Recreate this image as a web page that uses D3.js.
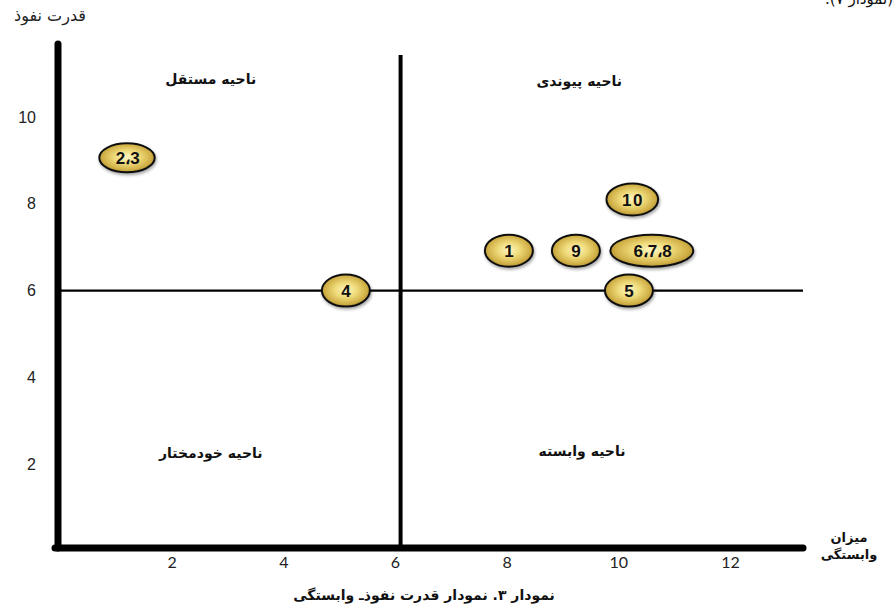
<!DOCTYPE html>
<html>
<head>
<meta charset="utf-8">
<script src="https://cdn.jsdelivr.net/npm/d3@7"></script>
<style>
  html, body { margin: 0; padding: 0; background: #fff; }
  svg { display: block; }
</style>
</head>
<body>
<svg id="chart" width="894" height="610"></svg>
<script>
// ---- data ----
const xTicks = [2, 4, 6, 8, 10, 12];
const yTicks = [2, 4, 6, 8, 10];
const nodeLabels = ["2،3", "4", "1", "9", "6،7،8", "10", "5"];
const dependence = [1.2, 5.12, 8.04, 9.24, 10.6, 10.25, 10.19];
const influence  = [9.06, 6.0, 6.92, 6.92, 6.92, 8.1, 6.0];
const xDivider = 6.1;
const yDivider = 6;
const quadrantNames = ["ناحیه مستقل", "ناحیه پیوندی", "ناحیه خودمختار", "ناحیه وابسته"];
const quadrantDep = [2.7, 9.3, 2.7, 9.35];
const quadrantInf = [10.88, 10.83, 2.25, 2.3];
const yTitle = "قدرت نفوذ";
const xTitle = ["میزان", "وابستگی"];
const caption = "نمودار ۳. نمودار قدرت نفوذـ وابستگی";
const topNote = "(نمودار ۷).";

// ---- setup ----
const svg = d3.select("#chart");
const x = d3.scaleLinear().domain([0, 12]).range([60, 730]);
const y = d3.scaleLinear().domain([0, 10]).range([551, 117]);
const xMax = x.invert(803);
const yTop = y.invert(44);

const defs = svg.append("defs");
const grad = defs.append("radialGradient").attr("id", "gold")
  .attr("cx", "50%").attr("cy", "48%").attr("r", "55%");
[[0, "#fdf6c2"], [0.4, "#f0dc7c"], [0.8, "#cfae45"], [1, "#a8862c"]].forEach(s =>
  grad.append("stop").attr("offset", s[0]).attr("stop-color", s[1]));
const f = defs.append("filter").attr("id", "shadow")
  .attr("x", "-30%").attr("y", "-30%").attr("width", "160%").attr("height", "180%");
f.append("feDropShadow").attr("dx", 1).attr("dy", 2).attr("stdDeviation", 1.5)
  .attr("flood-color", "#000").attr("flood-opacity", 0.35);

// top clipped note (cut off at the top edge, as in the source)
svg.append("text").attr("x", 893).attr("y", 4)
  .attr("direction", "rtl").attr("text-anchor", "start")
  .style("font-family", "DejaVu Sans, sans-serif").style("font-size", "15px")
  .attr("fill", "#111").text(topNote);

// ---- lines ----
svg.append("line")
  .attr("x1", x(0)).attr("x2", x(xMax))
  .attr("y1", y(yDivider)).attr("y2", y(yDivider))
  .attr("stroke", "#000").attr("stroke-width", 2.2);
svg.append("line")
  .attr("x1", x(xDivider)).attr("x2", x(xDivider))
  .attr("y1", 55).attr("y2", y(0) - 1)
  .attr("stroke", "#000").attr("stroke-width", 4);
svg.append("line")
  .attr("x1", x(0) - 2).attr("x2", x(0) - 2)
  .attr("y1", y(yTop)).attr("y2", y(0) - 3)
  .attr("stroke", "#000").attr("stroke-width", 7).attr("stroke-linecap", "round");
svg.append("line")
  .attr("x1", x(0) - 5).attr("x2", x(xMax))
  .attr("y1", y(0) - 3).attr("y2", y(0) - 3)
  .attr("stroke", "#000").attr("stroke-width", 7).attr("stroke-linecap", "round");

// ---- axes (labels only) ----
const yAxis = svg.append("g").attr("transform", "translate(36,0)")
  .call(d3.axisLeft(y).tickValues(yTicks).tickSize(0).tickPadding(0));
yAxis.select(".domain").remove();
yAxis.selectAll("text").style("font-family", "Liberation Sans, Arial, sans-serif")
  .style("font-size", "16px").attr("fill", "#222");

const xAxis = svg.append("g").attr("transform", "translate(0,557)")
  .call(d3.axisBottom(x).tickValues(xTicks).tickSize(0).tickPadding(0));
xAxis.select(".domain").remove();
xAxis.selectAll("text").style("font-family", "Lato, 'Open Sans', sans-serif")
  .style("font-size", "16px").attr("fill", "#222");

// ---- quadrant names ----
svg.append("g").selectAll("text").data(quadrantNames).join("text")
  .attr("x", (d, i) => x(quadrantDep[i]))
  .attr("y", (d, i) => y(quadrantInf[i]))
  .attr("text-anchor", "middle").attr("dominant-baseline", "central")
  .attr("direction", "rtl")
  .style("font-family", "DejaVu Sans, sans-serif").style("font-size", "14px")
  .style("font-weight", "bold").attr("fill", "#111")
  .text(d => d);

// ---- titles ----
svg.append("text").attr("x", 50).attr("y", 21)
  .attr("text-anchor", "middle").attr("direction", "rtl")
  .style("font-family", "DejaVu Sans, sans-serif").style("font-size", "16px")
  .attr("fill", "#222").text(yTitle);
svg.append("g").selectAll("text").data(xTitle).join("text")
  .attr("x", 849).attr("y", (d, i) => 542 + i * 17)
  .attr("text-anchor", "middle").attr("direction", "rtl")
  .style("font-family", "DejaVu Sans, sans-serif").style("font-size", "13px")
  .style("font-weight", "bold").attr("fill", "#111").text(d => d);
svg.append("text").attr("x", 424).attr("y", 600)
  .attr("text-anchor", "middle").attr("direction", "rtl")
  .style("font-family", "DejaVu Sans, sans-serif").style("font-size", "14px")
  .style("font-weight", "bold").attr("fill", "#111").text(caption);

// ---- bubbles ----
const nodes = nodeLabels.map((l, i) => ({ label: l, dx: dependence[i], iy: influence[i] }));
const g = svg.append("g").selectAll("g").data(nodes).join("g")
  .attr("transform", d => `translate(${x(d.dx)},${y(d.iy)})`);
const ell = g.append("ellipse").attr("fill", "url(#gold)")
  .attr("stroke", "#111").attr("stroke-width", 2)
  .attr("filter", "url(#shadow)").attr("ry", 16);
const txt = g.append("text").attr("text-anchor", "middle").attr("dy", "0.36em")
  .style("font-family", "Liberation Sans, Arial, sans-serif").style("font-size", "17px")
  .style("font-weight", "bold").style("letter-spacing", "1.5px")
  .attr("fill", "#111").text(d => d.label);
txt.each(function (d) { d.w = this.getComputedTextLength(); });
txt.attr("x", 0.75);
ell.attr("rx", d => Math.max(24, 0.95 * d.w + 5))
  .attr("ry", d => d.label.length === 3 ? 14.5 : 16);
</script>
</body>
</html>
